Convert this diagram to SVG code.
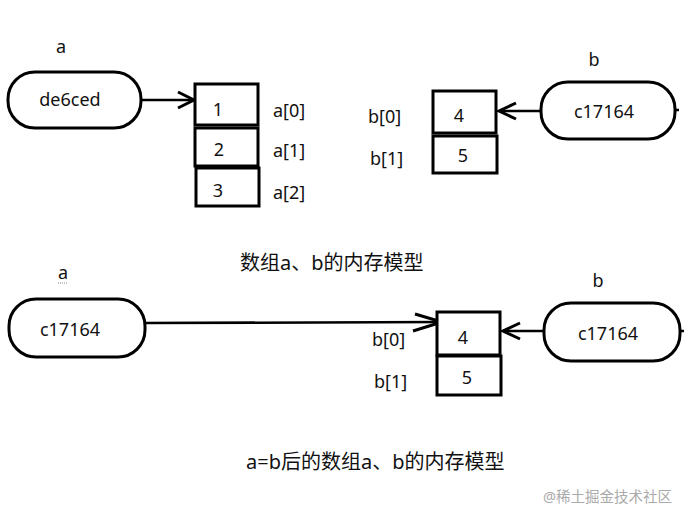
<svg xmlns="http://www.w3.org/2000/svg" width="689" height="520" viewBox="0 0 689 520">
<style>
text{font-family:"Noto Sans","Noto Sans CJK SC",sans-serif;font-size:18px;fill:#111}
.pill{fill:#fff;stroke:#000;stroke-width:3}
.box{fill:#fff;stroke:#000;stroke-width:3}
.c{text-anchor:middle}
.cap{font-size:20px}
.wm{font-size:14.5px;fill:#aaa}
.ln{fill:none;stroke:#000;stroke-width:2.5}
.ah{fill:none;stroke:#000;stroke-width:3;stroke-linejoin:miter}
</style>
<rect width="689" height="520" fill="#fff"/>
<g id="connectors">
<line class="ln" x1="141" y1="100" x2="193" y2="100"/>
<polyline class="ah" points="178,92 194,100 178,108"/>
<line class="ln" x1="541" y1="111" x2="499" y2="111"/>
<polyline class="ah" points="516,103 499,111 516,119"/>
<line class="ln" x1="145" y1="323" x2="441" y2="322"/>
<polyline class="ah" points="415,314 442,322 413,331"/>
<line class="ln" x1="544" y1="331" x2="503" y2="331"/>
<polyline class="ah" points="520,323 503,331 520,339"/>
</g>
<g id="a-top">
<text x="61" y="53" class="c">a</text>
<rect class="pill" x="8" y="72" width="133" height="56" rx="27"/>
<text x="70" y="106" class="c">de6ced</text>
</g>
<g id="array-a">
<rect class="box" x="195" y="84" width="63" height="41"/>
<rect class="box" x="195" y="128" width="63" height="38"/>
<rect class="box" x="196" y="168" width="63" height="38"/>
<text x="218" y="116" class="c">1</text>
<text x="219" y="156" class="c">2</text>
<text x="218" y="197" class="c">3</text>
<text x="273" y="117">a[0]</text>
<text x="273" y="157">a[1]</text>
<text x="273" y="199">a[2]</text>
</g>
<g id="b-top">
<text x="594" y="66" class="c">b</text>
<rect class="pill" x="541" y="82" width="134" height="57" rx="27"/>
<line class="ln" x1="675" y1="110" x2="679" y2="110"/>
<text x="604" y="118" class="c">c17164</text>
</g>
<g id="array-b-top">
<rect class="box" x="433" y="91" width="63" height="42"/>
<rect class="box" x="433" y="136" width="64" height="37"/>
<text x="459" y="122" class="c">4</text>
<text x="463" y="162" class="c">5</text>
<text x="368" y="123">b[0]</text>
<text x="370" y="165">b[1]</text>
</g>
<g id="caption-1">
<text x="240" y="270" class="cap">数组a、b的内存模型</text>
</g>
<g id="a-bottom">
<text x="63" y="279" class="c">a</text>
<line x1="58" y1="283" x2="68" y2="283" stroke="#888" stroke-width="1" stroke-dasharray="1,1"/>
<rect class="pill" x="9" y="299" width="136" height="58" rx="27"/>
<text x="70" y="336" class="c">c17164</text>
</g>
<g id="array-b-bottom">
<rect class="box" x="437" y="312" width="63" height="43"/>
<rect class="box" x="437" y="356" width="64" height="39"/>
<text x="463" y="344" class="c">4</text>
<text x="467" y="384" class="c">5</text>
<text x="372" y="346">b[0]</text>
<text x="374" y="388">b[1]</text>
</g>
<g id="b-bottom">
<text x="598" y="287" class="c">b</text>
<rect class="pill" x="544" y="303" width="136" height="58" rx="27"/>
<line class="ln" x1="680" y1="331" x2="684" y2="331"/>
<text x="608" y="340" class="c">c17164</text>
</g>
<g id="caption-2">
<text x="246" y="469" class="cap">a=b后的数组a、b的内存模型</text>
</g>
<g id="watermark">
<text x="543" y="502" class="wm">@稀土掘金技术社区</text>
</g>
</svg>
